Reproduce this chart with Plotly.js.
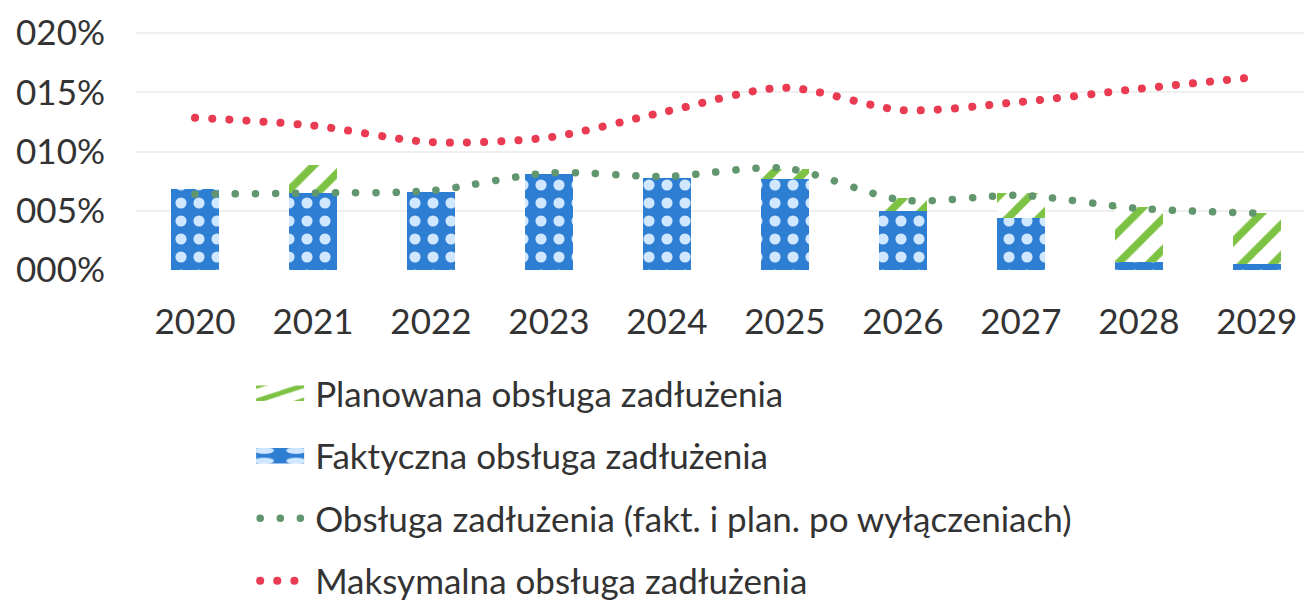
<!DOCTYPE html>
<html>
<head>
<meta charset="utf-8">
<script src="https://cdn.plot.ly/plotly-3.0.1.min.js"></script>
<style>
  html, body { margin: 0; padding: 0; background: #fff; overflow: hidden; }
  #chart { width: 1304px; height: 602px; }
  .js-line { stroke-linecap: round !important; }
  .legend .legendpoints path:not(.js-line):not(.js-fill) { transform: translate(25px, 0px) scale(4, 1.3) !important; }
</style>
</head>
<body>
<div id="chart"></div>
<script>
const years = ['2020','2021','2022','2023','2024','2025','2026','2027','2028','2029'];
const faktyczna = [0.068, 0.065, 0.066, 0.0815, 0.078, 0.077, 0.050, 0.044, 0.007, 0.005];
const planowana = [0.000, 0.024, 0.000, 0.000, 0.000, 0.0087, 0.011, 0.021, 0.046, 0.043];
const obslugaPoWyl = [0.064, 0.065, 0.067, 0.082, 0.079, 0.086, 0.059, 0.063, 0.052, 0.048];
const maksymalna = [0.1286, 0.122, 0.108, 0.112, 0.134, 0.154, 0.135, 0.142, 0.153, 0.163];
const yTickVals = [0, 0.05, 0.10, 0.15, 0.20];
const yTickText = ['000%', '005%', '010%', '015%', '020%'];
const names = ['Faktyczna obsługa zadłużenia', 'Planowana obsługa zadłużenia',
  'Obsługa zadłużenia (fakt. i plan. po wyłączeniach)', 'Maksymalna obsługa zadłużenia'];

const FONT = 'Lato, "Open Sans", sans-serif';

const traces = [
  {
    type: 'bar', x: years, y: faktyczna, name: names[0], legendrank: 2, legendgroup: 'b2',
    width: 0.41,
    marker: { color: '#2E7FD3', line: { width: 0 },
      pattern: { shape: '.', bgcolor: '#2E7FD3', fgcolor: '#CFE7FF', size: 18, solidity: 0.3 } },
    hoverinfo: 'skip'
  },
  {
    type: 'bar', x: years, y: planowana, name: names[1], legendrank: 1, legendgroup: 'a1',
    width: 0.41,
    marker: { color: '#7DC242', line: { width: 0 },
      pattern: { shape: '/', bgcolor: '#FFFFFF', fgcolor: '#7DC242', size: 22, solidity: 0.35 } },
    hoverinfo: 'skip'
  },
  {
    type: 'scatter', mode: 'lines', x: years, y: obslugaPoWyl, name: names[2], legendrank: 3, legendgroup: 'c3',
    line: { color: '#62966F', width: 7.5, dash: '0.1px,20px', shape: 'spline', smoothing: 0.8 },
    hoverinfo: 'skip'
  },
  {
    type: 'scatter', mode: 'lines', x: years, y: maksymalna, name: names[3], legendrank: 4, legendgroup: 'd4',
    line: { color: '#E93B52', width: 8, dash: '0.1px,17px', shape: 'spline', smoothing: 0.8 },
    hoverinfo: 'skip'
  }
];

const layout = {
  width: 1304, height: 602,
  margin: { l: 136, r: 0, t: 32, b: 332, autoexpand: false },
  paper_bgcolor: '#FFFFFF', plot_bgcolor: '#FFFFFF',
  barmode: 'stack',
  font: { family: FONT, color: '#333333' },
  showlegend: true,
  legend: {
    x: 0.102, xanchor: 'left', y: -0.395, yanchor: 'top',
    orientation: 'v', traceorder: 'grouped', tracegroupgap: 14,
    itemwidth: 50,
    font: { family: FONT, size: 35, color: '#333333' },
    bgcolor: 'rgba(0,0,0,0)'
  },
  xaxis: {
    type: 'category', range: [-0.5, 9.4],
    showgrid: false, zeroline: false, showline: false, ticks: '',
    ticklabelstandoff: 28,
    tickfont: { family: FONT, size: 35, color: '#333333' }
  },
  yaxis: {
    range: [0, 0.201], tickvals: yTickVals, ticktext: yTickText,
    showgrid: true, gridcolor: '#EFEFEF', gridwidth: 2,
    zeroline: false, showline: false, ticks: '',
    ticklabelstandoff: 30,
    tickfont: { family: FONT, size: 35, color: '#333333' }
  }
};

Plotly.newPlot('chart', traces, layout, { displayModeBar: false, staticPlot: true });
</script>
</body>
</html>
